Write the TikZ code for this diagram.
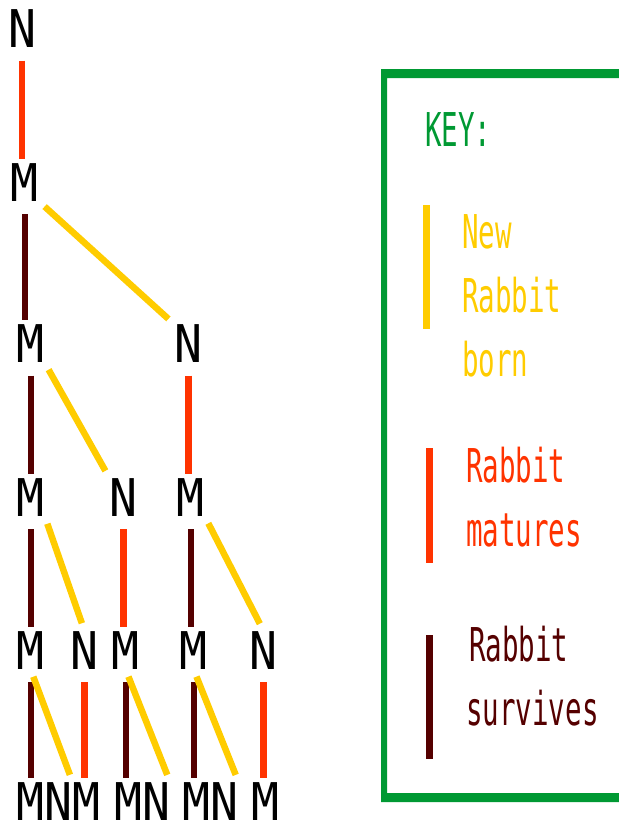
\documentclass[tikz,border=0pt]{standalone}
\usepackage{fontspec}
\usepackage{tikz}
\newfontfamily\treefont[FakeStretch=0.894]{DejaVu Sans Mono}
\newfontfamily\keyfont[FakeStretch=0.59]{DejaVu Sans Mono}
\definecolor{bornC}{RGB}{255,204,0}
\definecolor{matureC}{RGB}{255,51,0}
\definecolor{surviveC}{RGB}{85,0,0}
\definecolor{keyC}{RGB}{0,153,51}
\tikzstyle{rabbit} = [inner sep=0pt, text height=38pt, text depth=0pt, font=\treefont\fontsize{52}{52}\selectfont]
\tikzstyle{born} = [line width=6.5pt, draw=bornC, shorten <=8pt, shorten >=8pt]
\tikzstyle{matures} = [line width=6.5pt, draw=matureC, shorten <=13pt, shorten >=4pt]
\tikzstyle{survives} = [line width=6pt, draw=surviveC, shorten <=13pt, shorten >=4pt]
\tikzstyle{keytext} = [inner sep=0pt, anchor=base west, font=\keyfont\fontsize{46.6}{46.6}\selectfont]

\begin{document}
\begin{tikzpicture}[x=1pt,y=-1pt]
    \useasboundingbox (0,0) rectangle (619,823);
    % the tree, one row per month
    \node (n0) [rabbit] at (22,28.5) {N};
    \node (m1) [rabbit] at (24.5,182) {M};
    \node (m2a) [rabbit] at (30.5,343.5) {M};
    \node (n2b) [rabbit] at (188.5,343.5) {N};
    \node (m3a) [rabbit] at (30.5,497) {M};
    \node (n3b) [rabbit] at (123.5,497) {N};
    \node (m3c) [rabbit] at (190.5,497) {M};
    \node (m4a) [rabbit] at (30.5,650) {M};
    \node (n4b) [rabbit] at (84.5,650) {N};
    \node (m4c) [rabbit] at (125.5,650) {M};
    \node (m4d) [rabbit] at (193.5,650) {M};
    \node (n4e) [rabbit] at (263.5,650) {N};
    \node (m5a) [rabbit] at (30.5,801.5) {M};
    \node (n5b) [rabbit] at (58.5,801.5) {N};
    \node (m5c) [rabbit] at (86,801.5) {M};
    \node (m5d) [rabbit] at (128.5,801.5) {M};
    \node (n5e) [rabbit] at (156,801.5) {N};
    \node (m5f) [rabbit] at (196.5,801.5) {M};
    \node (n5g) [rabbit] at (224.5,801.5) {N};
    \node (m5h) [rabbit] at (265.5,801.5) {M};

    \draw [matures] (n0) -- (n0 |- m1.north);
    \draw [survives] (m1) -- (m1 |- m2a.north);
    \draw [born] (m1.south east) -- (n2b.north west);
    \draw [survives] (m2a) -- (m2a |- m3a.north);
    \draw [born] (m2a.south east) -- (n3b.north west);
    \draw [matures] (n2b) -- (n2b |- m3c.north);
    \draw [survives] (m3a) -- (m3a |- m4a.north);
    \draw [born] (m3a.south east) -- (n4b.north);
    \draw [matures] (n3b) -- (n3b |- m4c.north);
    \draw [survives] (m3c) -- (m3c |- m4d.north);
    \draw [born] (m3c.south east) -- (n4e.north);
    \draw [survives] (m4a) -- (m4a |- m5a.north);
    \draw [born] (m4a.south) -- (n5b.north east);
    \draw [matures] (n4b) -- (n4b |- m5c.north);
    \draw [survives] (m4c) -- (m4c |- m5d.north);
    \draw [born] (m4c.south) -- (n5e.north east);
    \draw [survives] (m4d) -- (m4d |- m5f.north);
    \draw [born] (m4d.south) -- (n5g.north east);
    \draw [matures] (n4e) -- (n4e |- m5h.north);

    % key box, open on the right
    \fill [keyC, even odd rule] (381,69) rectangle (619,802) (387,78) rectangle (619,793);
    \node (key) [keytext, text=keyC] at (425,146) {KEY:};
    \draw [line width=6.5pt, bornC] (426.5,205) -- (426.5,329);
    \node (new) [keytext, text=bornC] at (462,248) {New};
    \node (rab1) [keytext, text=bornC] at (462,312) {Rabbit};
    \node (born) [keytext, text=bornC] at (462,376) {born};
    \draw [line width=6.5pt, matureC] (429.5,448) -- (429.5,563);
    \node (rab2) [keytext, text=matureC] at (466,482) {Rabbit};
    \node (mat) [keytext, text=matureC] at (466,546) {matures};
    \draw [line width=6.5pt, surviveC] (429.5,635) -- (429.5,759);
    \node (rab3) [keytext, text=surviveC] at (469,661) {Rabbit};
    \node (surv) [keytext, text=surviveC] at (466,725) {survives};
\end{tikzpicture}
\end{document}
